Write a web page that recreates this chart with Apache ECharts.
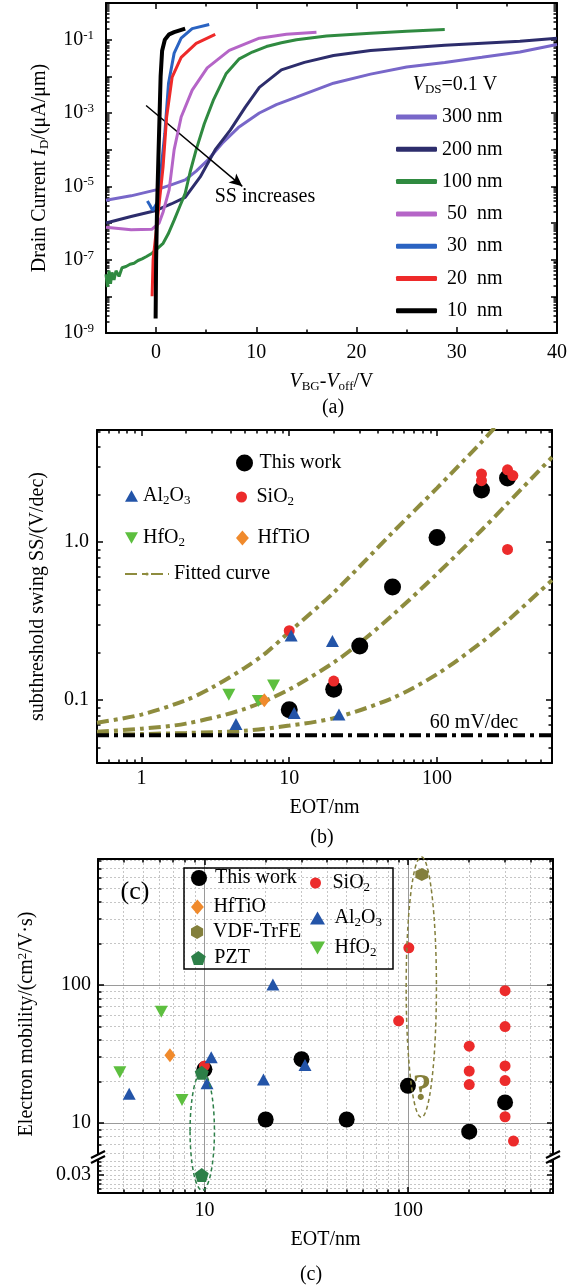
<!DOCTYPE html>
<html>
<head>
<meta charset="utf-8">
<script src="https://cdn.jsdelivr.net/npm/echarts@6.0.0/dist/echarts.min.js"></script>
<style>
html,body{margin:0;padding:0;background:#fff;}
#chart{width:580px;height:1286px;}
</style>
</head>
<body>
<div id="chart"></div>
<script>
// ================= Panel (a): transfer curves, I_D (uA/um) vs V_BG - V_off (V) =================
const aXTicks = [0, 10, 20, 30, 40];
const aXMinorTicks = [5, 15, 25, 35];
const aYLabelExps = [-9, -7, -5, -3, -1];
const curveNames = ['300 nm', '200 nm', '100 nm', '50 nm', '30 nm', '20 nm', '10 nm'];
const curve300 = [[-5,4.2e-6],[-2.5,5.5e-6],[0,8e-6],[1.5,1.1e-5],[2.9,1.5e-5],[4,2.6e-5],[5.1,5e-5],[6.6,1.5e-4],[8.2,4e-4],[10.3,1e-3],[12,1.7e-3],[14,2.7e-3],[17.7,6.5e-3],[21.4,1.15e-2],[25,1.8e-2],[28.8,2.4e-2],[32.5,3.3e-2],[36.3,4.6e-2],[40,7.4e-2]];
const curve200 = [[-5,1e-6],[-2.5,1.5e-6],[0,2.2e-6],[1.5,3.3e-6],[2.9,5e-6],[4.4,1.8e-5],[5.9,1e-4],[7.4,3.4e-4],[8.9,1.45e-3],[10.3,5e-3],[12.5,1.5e-2],[14.8,2.4e-2],[17.7,3.7e-2],[21.4,5.1e-2],[28.8,7e-2],[36.3,9.1e-2],[40,1.1e-1]];
const curve100 = [[-5,4e-8],[-4.85,1.8e-8],[-4.7,5e-8],[-4.55,2.2e-8],[-4.4,4.5e-8],[-4.2,2.8e-8],[-4,5e-8],[-3.7,3.5e-8],[-3.4,6e-8],[-3,6.5e-8],[-2.6,7.5e-8],[-2.2,8e-8],[-1.8,9.5e-8],[-1.4,1.05e-7],[-1,1.2e-7],[-0.4,1.5e-7],[0.2,2.1e-7],[0.7,2.8e-7],[1.2,5e-7],[1.8,1.2e-6],[2.4,3e-6],[2.9,6.4e-6],[3.4,2.5e-5],[4,1e-4],[4.8,5e-4],[5.7,2.2e-3],[7,1.2e-2],[8.3,3e-2],[9.6,4.6e-2],[11,6.5e-2],[12.5,8.2e-2],[14,1e-1],[17,1.25e-1],[21.4,1.5e-1],[25,1.7e-1],[28.8,1.9e-1]];
const curve50 = [[-5,7.7e-7],[-2.5,6.5e-7],[-0.4,6.8e-7],[0.3,1e-6],[0.7,2e-6],[1.3,8e-6],[1.8,1e-4],[2.5,7.8e-4],[3.6,4.2e-3],[5.1,1.7e-2],[7.3,5.1e-2],[10.3,1.1e-1],[13,1.4e-1],[16,1.6e-1]];
const curve30 = [[-0.87,4e-6],[-0.6,3e-6],[-0.35,2.2e-6],[0.2,4e-6],[0.5,3e-5],[0.87,2.8e-4],[1.24,6.5e-3],[1.8,4.3e-2],[2.5,1.1e-1],[3.6,2e-1],[5.3,2.6e-1]];
const curve20 = [[-0.4,1e-8],[-0.3,1e-7],[0.1,1e-6],[0.4,6e-6],[0.69,3.3e-5],[1.05,7.8e-4],[1.6,9.5e-3],[2.5,3.3e-2],[4,7.9e-2],[5.9,1.4e-1]];
const curve10 = [[-0.05,2.5e-9],[0,1e-7],[0.1,3e-6],[0.25,1e-4],[0.35,1e-3],[0.45,1e-2],[0.6,5e-2],[0.87,1e-1],[1.3,1.4e-1],[1.8,1.6e-1],[2.9,2e-1]];
const ssArrow = [[-1.0, 1.6e-3], [8.6, 1.0e-5]];

// ================= Panel (b): SS (V/dec) vs EOT (nm) =================
const bXLabels = [1, 10, 100];
const bYLabels = [0.1, 1];
const ssThisWork = [[10,0.087],[20,0.117],[30,0.22],[50,0.52],[100,1.07],[200,2.14],[300,2.55]];
const ssSiO2 = [[10,0.275],[20,0.132],[200,2.70],[200,2.45],[300,2.87],[326,2.64],[300,0.9]];
const ssAl2O3 = [[10.3,0.257],[19.6,0.237],[10.8,0.083],[21.7,0.081],[4.36,0.0705]];
const ssHfO2 = [[3.9,0.108],[6.18,0.0986],[7.83,0.124]];
const ssHfTiO = [[6.78,0.1]];
const fitHigh = [[0.5,0.072],[1,0.081],[2,0.1],[3,0.12],[5,0.16],[7,0.2],[10,0.27],[20,0.48],[50,1.15],[100,2.2],[200,4.3],[250,5.4]];
const fitMid = [[0.5,0.063],[1,0.066],[2,0.071],[5,0.088],[10,0.117],[20,0.173],[30,0.23],[50,0.345],[100,0.63],[200,1.19],[300,1.76],[600,3.45]];
const fitLow = [[0.5,0.0604],[1,0.061],[2,0.062],[5,0.064],[10,0.069],[20,0.077],[50,0.103],[100,0.146],[200,0.232],[300,0.318],[600,0.575]];
const limit60 = [[0.5,0.06],[600,0.06]];

// ================= Panel (c): electron mobility (cm2/V.s) vs EOT (nm) =================
const cXLabels = [10, 100];
const cYLabels = [10, 100];
const cLowLabels = [0.03];
const muThisWork = [[10,24.5],[30,29],[100,18.6],[20,10.6],[50,10.6],[200,8.65],[300,14.1]];
const muSiO2 = [[101,186],[90,55],[300,91],[300,50],[200,36],[200,23.8],[200,19],[300,25.9],[300,20.3],[300,11.1],[330,7.4],[10,25.9]];
const muHfTiO = [[6.77,31]];
const muAl2O3 = [[21.7,101],[10.8,30],[4.27,16.3],[10.3,19.4],[19.5,20.7],[31.2,26.3]];
const muHfO2 = [[6.14,64],[3.84,23.3],[7.76,14.7]];
const muVDF = [[117,632]];
const muPZT = [[9.7,23.1]];
const muPZTLow = [[9.7,0.03]];
const ellipseBounds = [
  { name: 'PZT', xFrom: 8.5, xTo: 11.2, yTop: 23.5, yBottomLow: 0.0266 },
  { name: 'VDF-TrFE', xFrom: 98, xTo: 138, yTop: 850, yBottom: 11 }
];

// ================= helpers =================
const F = "'Liberation Serif','Times New Roman',serif";
const L = Math.log10;
const RICH = {
  i: { fontFamily: F, fontSize: 20, fontStyle: 'italic', color: '#000', lineHeight: 22 },
  sub: { fontFamily: F, fontSize: 13, color: '#000', lineHeight: 9, verticalAlign: 'bottom' },
  sup: { fontFamily: F, fontSize: 13, color: '#000', lineHeight: 9, verticalAlign: 'top' },
  num: { fontFamily: F, fontSize: 20, color: '#000', lineHeight: 22, width: 30, align: 'right' }
};
const chem = n => n.replace(/(\d)/g, '{sub|$1}');
function decades(a, b) { const r = []; for (let e = Math.ceil(L(a) - 1e-9); e <= Math.floor(L(b) + 1e-9); e++) r.push(e); return r; }
function minors(a, b) {
  const r = [];
  for (let e = Math.floor(L(a)) - 1; e <= Math.ceil(L(b)); e++)
    for (let k = 2; k <= 9; k++) { const v = k * Math.pow(10, e); if (v >= a * 0.9999 && v <= b * 1.0001) r.push(L(v)); }
  return r;
}
const ON = { line: true, ticks: true }, OFF = { line: false, ticks: false };
const xAxes = [], yAxes = [];
function addAxes(list, dim, grid, o) {
  const mainPos = dim === 'x' ? 'bottom' : 'left';
  const mirPos = dim === 'x' ? 'top' : 'right';
  const start = list.length;
  const mk = (pos, kind) => {
    const isMain = pos === mainPos, major = kind === 'major';
    const side = isMain ? o.main : o.mirror;
    const ax = {
      type: 'value', gridIndex: grid, min: o.min, max: o.max, position: pos, offset: 0,
      axisLine: { show: major && side.line, onZero: false, lineStyle: { color: '#000', width: 2 } },
      axisTick: { show: side.ticks, inside: true, length: major ? 6 : 3.5,
        customValues: major ? o.major : o.minor, lineStyle: { color: '#000', width: 1.5 } },
      axisLabel: { show: false },
      splitLine: { show: false },
      axisPointer: { show: false }, silent: true, z: 1
    };
    if (isMain && major && o.labels) {
      ax.axisLabel = { show: true, customValues: o.labels, formatter: o.fmt, margin: o.margin,
        fontFamily: F, fontSize: 20, color: '#000', lineHeight: 22, rich: RICH };
    }
    if (isMain && major && o.name) {
      Object.assign(ax, { name: o.name, nameLocation: 'middle', nameGap: o.nameGap, nameMoveOverlap: false,
        nameTextStyle: { fontFamily: F, fontSize: 20, color: '#000', lineHeight: 22, rich: RICH } });
    }
    if (isMain && o.split) {
      const s = major ? o.split.major : o.split.minor;
      if (s) ax.splitLine = { show: true, lineStyle: s };
    }
    return ax;
  };
  list.push(mk(mainPos, 'major'), mk(mainPos, 'minor'), mk(mirPos, 'major'), mk(mirPos, 'minor'));
  return start;
}

const GRID_MAJOR = { color: '#9a9a9a', width: 1, type: 'solid' };
const GRID_MINOR = { color: '#c6c6c6', width: 1, type: [2, 2] };
const decFmt = v => String(Math.round(Math.pow(10, v)));

// ---- axes ----
const axA = addAxes(xAxes, 'x', 0, { min: -5, max: 40, major: aXTicks, minor: aXMinorTicks, labels: aXTicks,
  fmt: v => String(v), margin: 9, name: '{i|V}{sub|BG}-{i|V}{sub|off}/V', nameGap: 38, main: ON, mirror: ON });
const ayA = addAxes(yAxes, 'y', 0, { min: -9, max: 0, major: decades(1e-9, 1), minor: minors(1e-9, 1), labels: aYLabelExps,
  fmt: v => '10{sup|' + Math.round(v) + '}', margin: 12, name: 'Drain Current {i|I}{sub|D}/(μA/μm)', nameGap: 55, main: ON, mirror: ON });

const axB = addAxes(xAxes, 'x', 1, { min: L(0.5), max: L(600), major: decades(0.5, 600), minor: minors(0.5, 600), labels: bXLabels.map(L),
  fmt: decFmt, margin: 5, name: 'EOT/nm', nameGap: 34, main: ON, mirror: ON });
const ayB = addAxes(yAxes, 'y', 1, { min: L(0.04), max: 0.71, major: decades(0.04, 5.13), minor: minors(0.04, 5.13), labels: bYLabels.map(L),
  fmt: v => Math.pow(10, v).toFixed(1), margin: 8, name: 'subthreshold swing SS/(V/dec)', nameGap: 48, main: ON, mirror: ON });

const axC = addAxes(xAxes, 'x', 2, { min: L(3), max: L(516), major: decades(3, 516), minor: minors(3, 516),
  main: OFF, mirror: ON, split: { major: GRID_MAJOR, minor: GRID_MINOR } });
const ayC = addAxes(yAxes, 'y', 2, { min: 0.7536, max: 2.913, major: decades(5.67, 818), minor: minors(5.67, 818), labels: cYLabels.map(L),
  fmt: decFmt, margin: 7, main: ON, mirror: ON, split: { major: GRID_MAJOR, minor: GRID_MINOR } });

const axD = addAxes(xAxes, 'x', 3, { min: L(3), max: L(516), major: decades(3, 516), minor: minors(3, 516), labels: cXLabels.map(L),
  fmt: decFmt, margin: 7, name: 'EOT/nm', nameGap: 36, main: ON, mirror: OFF, split: { major: GRID_MAJOR, minor: GRID_MINOR } });
const ayD = addAxes(yAxes, 'y', 3, { min: 0.026, max: 0.034, major: cLowLabels, minor: [0.027, 0.028, 0.029, 0.031, 0.032, 0.033], labels: cLowLabels,
  fmt: v => v.toFixed(2), margin: 7, main: ON, mirror: ON, split: { major: GRID_MINOR, minor: GRID_MINOR } });

// ---- series ----
const aColors = ['#7867c9', '#2d2d6c', '#2f8a40', '#b565c7', '#2a63c2', '#ee2a2a', '#000000'];
const aCurves = [curve300, curve200, curve100, curve50, curve30, curve20, curve10];
const series = [];
aCurves.forEach((d, i) => {
  const s = { type: 'line', name: curveNames[i], xAxisIndex: axA, yAxisIndex: ayA, data: d.map(p => [p[0], L(p[1])]),
    showSymbol: false, symbol: 'none', silent: true, z: 2 + i,
    lineStyle: { color: aColors[i], width: i === 6 ? 4 : 3 }, itemStyle: { color: aColors[i] } };
  if (i === 6) {
    s.markLine = { silent: true, symbol: ['none', 'arrow'], symbolSize: [9, 13], label: { show: false },
      lineStyle: { color: '#000', width: 1.5, type: 'solid' },
      data: [[{ coord: [ssArrow[0][0], L(ssArrow[0][1])] }, { coord: [ssArrow[1][0], L(ssArrow[1][1])] }]] };
  }
  series.push(s);
});

const lg = pts => pts.map(p => [L(p[0]), L(p[1])]);
const FIT = '#8e8c3e';
const DASHDOT = [12, 5, 4, 5];
[fitHigh, fitMid, fitLow].forEach(d => series.push({ type: 'line', name: 'Fitted curve', xAxisIndex: axB, yAxisIndex: ayB,
  data: lg(d), showSymbol: false, symbol: 'none', smooth: 0.3, silent: true, z: 2,
  lineStyle: { color: FIT, width: 4, type: DASHDOT }, itemStyle: { color: FIT } }));
series.push({ type: 'line', name: '60 mV/dec', xAxisIndex: axB, yAxisIndex: ayB, data: lg(limit60), showSymbol: false, symbol: 'none',
  silent: true, z: 2, lineStyle: { color: '#000', width: 4, type: DASHDOT }, itemStyle: { color: '#000' } });

const TRI_DOWN = 'path://M0,0L10,0L5,8.66Z';
const TRI_UP = 'path://M5,0L10,8.66L0,8.66Z';
const DIAMOND = 'path://M6,0L12,7L6,14L0,7Z';
const STY = {
  'This work': { symbol: 'circle', color: '#000000' },
  'SiO2': { symbol: 'circle', color: '#ec2b2b' },
  'Al2O3': { symbol: 'triangle', icon: TRI_UP, color: '#2354a8' },
  'HfO2': { symbol: TRI_DOWN, color: '#5dbf3f' },
  'HfTiO': { symbol: 'diamond', icon: DIAMOND, color: '#f08a2c' },
  'VDF-TrFE': { symbol: 'path://M0,-10L8.66,-5L8.66,5L0,10L-8.66,5L-8.66,-5Z', color: '#837f3c' },
  'PZT': { symbol: 'path://M0,-10L9.51,-3.09L5.88,8.09L-5.88,8.09L-9.51,-3.09Z', color: '#2d7f48' }
};
function scat(name, data, size, xi, yi) {
  const st = STY[name];
  return { type: 'scatter', name, xAxisIndex: xi, yAxisIndex: yi, data, symbol: st.symbol, symbolSize: size,
    silent: true, z: 4, itemStyle: { color: st.color, opacity: 1 } };
}
series.push(scat('This work', lg(ssThisWork), 17, axB, ayB));
series.push(scat('SiO2', lg(ssSiO2), 11, axB, ayB));
series.push(scat('Al2O3', lg(ssAl2O3), [13, 12], axB, ayB));
series.push(scat('HfO2', lg(ssHfO2), [13, 12], axB, ayB));
series.push(scat('HfTiO', lg(ssHfTiO), [11, 14], axB, ayB));

series.push(scat('This work', lg(muThisWork), 16, axC, ayC));
series.push(scat('SiO2', lg(muSiO2), 11, axC, ayC));
series.push(scat('HfTiO', lg(muHfTiO), [11, 14], axC, ayC));
series.push(scat('Al2O3', lg(muAl2O3), [13, 12], axC, ayC));
series.push(scat('HfO2', lg(muHfO2), [13, 12], axC, ayC));
series.push(scat('VDF-TrFE', lg(muVDF), 13, axC, ayC));
series.push(scat('PZT', lg(muPZT), 14, axC, ayC));
series.push(scat('PZT', muPZTLow.map(p => [L(p[0]), p[1]]), 14, axD, ayD));

// ---- legends ----
const LEGTXT = { fontFamily: F, fontSize: 20, color: '#000', lineHeight: 22, rich: RICH };
function leg(name, left, centerY, w, h) {
  const st = STY[name];
  return { data: [{ name, icon: st ? (st.icon || st.symbol) : undefined }], symbolKeepAspect: true,
    left, top: centerY - 11, itemWidth: w, itemHeight: h, padding: 0, itemGap: 0, z: 10,
    orient: 'vertical', selectedMode: false, textStyle: LEGTXT, formatter: chem };
}
const legends = [
  { data: curveNames, left: 396, top: 106, orient: 'vertical', itemWidth: 41, itemHeight: 5, itemGap: 10.3, padding: 0,
    icon: 'roundRect', selectedMode: false, textStyle: LEGTXT,
    formatter: n => { const p = n.split(' '); return '{num|' + p[0] + '} ' + p[1]; } },
  leg('This work', 236, 463, 20, 17),
  leg('SiO2', 236, 497, 20, 11),
  leg('HfTiO', 236, 538, 20, 15),
  leg('Al2O3', 125, 496, 13, 12),
  leg('HfO2', 125, 538, 13, 12),
  leg('Fitted curve', 124, 574, 44, 4),
  leg('This work', 191, 878, 22, 16),
  leg('HfTiO', 191, 907, 22, 15),
  leg('VDF-TrFE', 191, 932, 22, 14),
  leg('PZT', 191, 958, 22, 14),
  leg('SiO2', 310, 883, 24, 11),
  leg('Al2O3', 310, 918, 24, 13),
  leg('HfO2', 310, 948, 24, 13)
];

const grids = [
  { left: 106, top: 3, width: 451, height: 330 },
  { left: 97, top: 430, width: 455, height: 333 },
  { left: 98, top: 859, width: 455, height: 298 },
  { left: 98, top: 1157, width: 455, height: 36 }
].map(g => Object.assign({ show: false, containLabel: false, outerBoundsMode: 'none' }, g));

const option = {
  animation: false,
  backgroundColor: '#ffffff',
  textStyle: { fontFamily: F },
  grid: grids, xAxis: xAxes, yAxis: yAxes, legend: legends, series
};

const chart = echarts.init(document.getElementById('chart'), null, { renderer: 'canvas' });
chart.setOption(option);

// ---- annotations ----
function gtext(text, x, y, size, st, extra) {
  return Object.assign({ type: 'text', x, y, z: 60, silent: true,
    style: Object.assign({ text, fontFamily: F, fontSize: size, fill: '#000', align: 'center', verticalAlign: 'middle', rich: RICH }, st || {}) }, extra || {});
}
const pU = (x, y) => chart.convertToPixel({ xAxisIndex: axC, yAxisIndex: ayC }, [L(x), L(y)]);
const pD = (x, y) => chart.convertToPixel({ xAxisIndex: axD, yAxisIndex: ayD }, [L(x), y]);
const graphics = [
  gtext('{i|V}{sub|DS}=0.1 V', 455, 85, 20),
  gtext('SS increases', 265, 197, 20),
  gtext('(a)', 333, 408, 20),
  gtext('60 mV/dec', 474, 723, 20),
  gtext('(b)', 322, 838, 20),
  gtext('(c)', 135, 892, 26),
  gtext('?', 422, 1090, 38, { fill: '#857f3a', fontWeight: 'bold' }),
  gtext('Electron mobility/(cm{sup|2}/V·s)', 27, 1024, 20, { lineHeight: 22 }, { rotation: Math.PI / 2 }),
  gtext('(c)', 311, 1275, 20),
  { type: 'rect', z: 40, silent: true, shape: { x: 184, y: 868, width: 209, height: 101 },
    style: { fill: 'none', stroke: '#000', lineWidth: 1.5 } }
];
ellipseBounds.forEach(e => {
  const a = pU(e.xFrom, e.yTop), b = pU(e.xTo, e.yTop);
  const bottom = e.yBottomLow !== undefined ? pD(e.xFrom, e.yBottomLow)[1] : pU(e.xFrom, e.yBottom)[1];
  graphics.push({ type: 'ellipse', z: 45, silent: true,
    shape: { cx: (a[0] + b[0]) / 2, cy: (a[1] + bottom) / 2, rx: (b[0] - a[0]) / 2, ry: (bottom - a[1]) / 2 },
    style: { fill: 'none', stroke: STY[e.name].color, lineWidth: 1.5, lineDash: [4, 3] } });
});
// axis-break marks on the left and right frame lines of panel (c)
[grids[2].left, grids[2].left + grids[2].width].forEach(x0 => {
  const y0 = grids[2].top + grids[2].height;
  graphics.push({ type: 'polygon', z: 70, silent: true,
    shape: { points: [[x0 - 7, y0 + 1], [x0 + 7, y0 - 6], [x0 + 7, y0 - 1], [x0 - 7, y0 + 6]] }, style: { fill: '#fff' } });
  graphics.push({ type: 'line', z: 71, silent: true, shape: { x1: x0 - 7, y1: y0 + 1, x2: x0 + 7, y2: y0 - 6 },
    style: { stroke: '#000', lineWidth: 2.2 } });
  graphics.push({ type: 'line', z: 71, silent: true, shape: { x1: x0 - 7, y1: y0 + 6, x2: x0 + 7, y2: y0 - 1 },
    style: { stroke: '#000', lineWidth: 2.2 } });
});
chart.setOption({ graphic: graphics });
</script>
</body>
</html>
